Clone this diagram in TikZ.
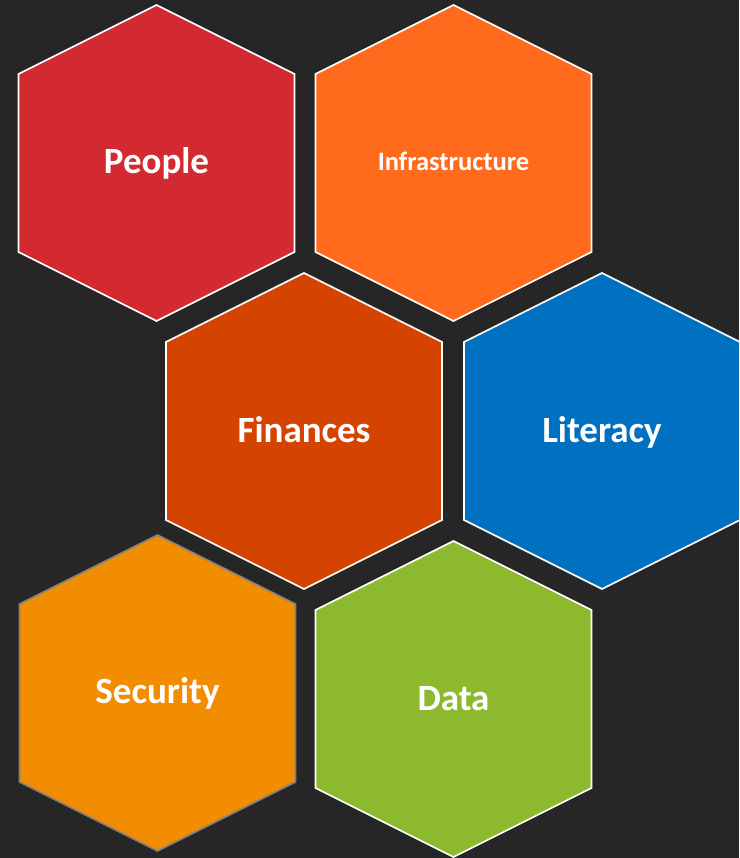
\documentclass[tikz,border=0pt]{standalone}
\usepackage{fontspec}
\setmainfont{Carlito}
\usetikzlibrary{positioning}
\definecolor{bgdark}{RGB}{38,38,38}
\definecolor{myred}{RGB}{210,42,48}
\definecolor{myorange}{RGB}{255,106,28}
\definecolor{myrust}{RGB}{212,68,0}
\definecolor{myblue}{RGB}{0,112,192}
\definecolor{myamber}{RGB}{242,140,0}
\definecolor{mygreen}{RGB}{141,185,47}
\definecolor{myedge}{RGB}{128,128,128}

\begin{document}
\begin{tikzpicture}[x=1pt,y=-1pt,
    hexcell/.style={line width=1.6pt},
    hexlabel/.style={text=white,anchor=base,inner sep=0pt}]
    \fill[bgdark] (0,0) rectangle (739,858);
    \useasboundingbox (0,0) rectangle (739,858);
    \foreach \cx/\cy/\col/\edge/\sz/\dy/\name/\txt in {
        156.5/163/myred/white/37/10.5/people/People,
        453.5/163/myorange/white/26.5/7.7/infra/Infrastructure,
        304/431/myrust/white/37/11/finances/Finances,
        602/431/myblue/white/37/11/literacy/Literacy,
        157.5/693/myamber/myedge/37/10/security/Security,
        453.5/699/mygreen/white/37/11/data/Data}{
        \filldraw[hexcell,fill=\col,draw=\edge] (\cx,\cy) ++(0,-158) -- ++(138,69) -- ++(0,178)
            -- ++(-138,69) -- ++(-138,-69) -- ++(0,-178) -- cycle;
        \node[hexlabel,font=\bfseries\fontsize{\sz}{\sz}\selectfont] (\name) at (\cx,\cy+\dy) {\txt};
    }
\end{tikzpicture}
\end{document}
